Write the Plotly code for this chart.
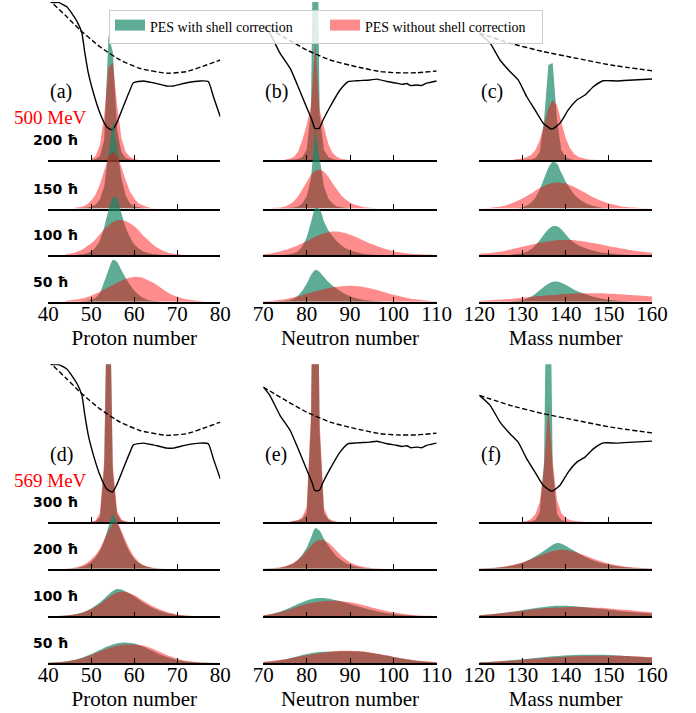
import plotly.graph_objects as go

# ===================== DATA =====================
# Yields (arbitrary units) of fragments, green = PES with shell correction,
# red = PES without shell correction.  500 MeV panel: rows 200,150,100,50 hbar
# ---- (a) proton number ----
a200_x = list(range(50, 62))
a200_sc = [0, 1, 4, 20, 125, 108, 30, 8, 2, 0.5, 0, 0]
a200_no = [1, 4, 15, 45, 92, 98, 55, 22, 8, 3, 1, 0]
a150_x = list(range(46, 66))
a150_sc = [0, 0, 0.5, 1, 2, 4, 9, 22, 55, 88, 62, 30, 13, 5, 2, 1, 0.5, 0, 0, 0]
a150_no = [0.5, 1, 2, 4, 8, 14, 24, 38, 52, 57, 53, 42, 28, 17, 10, 5, 3, 1.5, 0.7, 0.3]
a100_x = list(range(44, 73))
a100_sc = [0, 0, 0, 0.5, 1, 2, 4, 8, 15, 28, 45, 58, 57, 42, 28, 18, 11, 7, 4, 2.5, 1.5, 1, 0.5, 0, 0, 0, 0, 0, 0]
a100_no = [1, 1.5, 2.5, 4, 6, 9, 12, 16, 21, 26, 30, 33, 35, 35, 34, 32, 29, 25, 20, 16, 12, 8.5, 6, 4, 2.5, 1.5, 1, 0.5, 0.3]
a50_x = list(range(44, 77))
a50_sc = [0, 0, 0, 0, 0.5, 1, 2, 4, 9, 20, 32, 42, 40, 32, 24, 17, 11, 7, 4, 2, 1, 0.5, 0, 0, 0, 0, 0, 0, 0, 0, 0, 0, 0]
a50_no = [1, 1.5, 2, 2.7, 3.5, 4.7, 6, 8, 10, 12.3, 14.5, 16.8, 19, 21, 23, 24.3, 25, 24.8, 24, 22.2, 20, 17.5, 14.5, 11.5, 8.8, 6.5, 5, 3.7, 2.7, 2, 1.4, 1, 0.6]
# ---- (b) neutron number ----
b200_x = list(range(75, 91))
b200_sc = [0, 0, 0.5, 1, 3, 10, 50, 420, 45, 10, 3, 1, 0, 0, 0, 0]
b200_no = [0.5, 1, 3, 8, 20, 35, 55, 117, 50, 32, 16, 7, 3, 1, 0.5, 0]
b150_x = list(range(72, 97))
b150_sc = [0, 0, 0, 0, 0.5, 1, 2, 5, 12, 30, 80, 50, 22, 10, 5, 2, 1, 0.5, 0, 0, 0, 0, 0, 0, 0]
b150_no = [0.5, 0.7, 1, 2, 4, 7, 12, 19, 27, 34, 38, 39, 37, 32, 25, 19, 13, 9, 6, 4, 2.5, 1.5, 1, 0.5, 0.3]
b100_x = list(range(70, 111))
b100_sc = [0, 0, 0, 0, 0, 0.5, 1, 2, 4, 9, 18, 33, 47, 46, 34, 25, 19, 14, 10, 7, 5, 3.5, 2.5, 1.5, 1, 0.5, 0.3,
           0, 0, 0, 0, 0, 0, 0, 0, 0, 0, 0, 0, 0, 0]
b100_no = [1, 1.5, 2, 3, 4, 5.2, 6.5, 8.2, 10, 12, 14, 16.3, 18.5, 20.3, 22, 23, 23.6, 23.6, 23, 22, 20.5, 19, 17, 15,
           13, 11.2, 9.5, 8, 6.5, 5.2, 4, 3.2, 2.5, 2, 1.5, 1.2, 1, 0.8, 0.6, 0.4, 0.3]
b50_x = list(range(70, 111))
b50_sc = [0, 0, 0, 0, 0.5, 1, 1.5, 3, 6, 11, 18, 27, 32, 30, 25, 20, 16, 13, 10, 7.5, 5.5, 4, 3, 2, 1.5, 1, 0.5, 0.3,
          0, 0, 0, 0, 0, 0, 0, 0, 0, 0, 0, 0, 0]
b50_no = [0.5, 0.7, 1, 1.5, 2, 2.7, 3.5, 4.5, 5.5, 6.7, 8, 9.2, 10.5, 11.5, 12.5, 13.5, 14.5, 15, 15.5, 15.8, 16, 15.8,
          15.5, 14.8, 14, 13, 12, 10.8, 9.5, 8.2, 7, 6, 5, 4, 3, 2.5, 2, 1.5, 1, 0.7, 0.5]
# ---- (c) mass number ----
c200_x = list(range(128, 149))
c200_sc = [0, 0, 0, 0, 0.5, 2, 8, 40, 95, 97, 40, 10, 3, 1, 0, 0, 0, 0, 0, 0, 0]
c200_no = [0.5, 1, 1.5, 3, 5, 10, 20, 35, 52, 60, 55, 38, 22, 12, 6, 3, 1.5, 0.7, 0.3, 0, 0]
c150_x = list(range(120, 161))
c150_sc = [0, 0, 0, 0, 0, 0, 0, 0, 0, 0, 1, 3, 6, 11, 19, 30, 41, 47, 45, 36, 27, 20, 14, 10, 7, 4.5, 3, 2, 1, 0.5,
           0, 0, 0, 0, 0, 0, 0, 0, 0, 0, 0]
c150_no = [0.2, 0.3, 0.5, 1, 1.5, 2.2, 3, 4.5, 6, 8, 10, 12.5, 15, 17.8, 20.5, 22.5, 24.5, 25.5, 26, 25.8, 25, 23.5,
           21.5, 19.3, 17, 14.5, 12, 10, 8, 6.5, 5, 4, 3, 2.2, 1.5, 1.2, 1, 0.7, 0.5, 0.3, 0.2]
c100_x = list(range(120, 161))
c100_sc = [0, 0, 0, 0, 0, 0, 0, 0, 1, 1.5, 2, 3.5, 6, 10, 15, 21, 26, 29, 29, 26, 21, 16, 12.5, 10, 8, 6.5, 5, 4, 3,
           2.5, 2, 1.5, 1, 0.7, 0.5, 0.3, 0, 0, 0, 0, 0]
c100_no = [1.2, 1.6, 2, 2.5, 3, 3.7, 4.5, 5.5, 6.5, 7.5, 8.5, 9.5, 10.5, 11.5, 12.5, 13.3, 14, 14.5, 15, 15.2, 15.3,
           15.2, 15, 14.5, 14, 13.3, 12.5, 11.8, 11, 10, 9, 8.2, 7.5, 6.7, 6, 5.2, 4.5, 4, 3.5, 3, 2.5]
c50_x = list(range(120, 161))
c50_sc = [0, 0, 0, 0, 0, 0, 0, 0, 0.5, 1, 1.5, 3, 5, 8, 11.5, 15, 18, 20, 20.3, 19, 17, 14.5, 12, 10, 8.5, 7, 5.5,
          4.5, 3.5, 2.7, 2, 1.5, 1, 0.7, 0.5, 0, 0, 0, 0, 0, 0]
c50_no = [1, 1.2, 1.5, 1.7, 2, 2.2, 2.5, 2.8, 3.2, 3.6, 4, 4.5, 5, 5.4, 5.8, 6.2, 6.5, 6.9, 7.2, 7.5, 7.8, 8, 8.3,
          8.5, 8.7, 8.7, 8.7, 8.6, 8.5, 8.4, 8.2, 8, 7.7, 7.5, 7.2, 6.9, 6.6, 6.3, 6, 5.7, 5.4]

# 569 MeV panel: rows 300,200,100,50 hbar
# ---- (d) proton number ----
d300_x = list(range(50, 60))
d300_sc = [0, 0.5, 5, 55, 330, 50, 8, 1.5, 0, 0]
d300_no = [0.3, 1.5, 9, 62, 300, 58, 11, 2.5, 0.7, 0]
d200_x = list(range(44, 68))
d200_sc = [0, 0.3, 0.5, 1, 2, 4, 7, 11.5, 18, 28, 42, 54, 47, 36, 25, 16, 10, 6, 3.5, 2, 1, 0.5, 0.2, 0]
d200_no = [0.3, 0.5, 1, 2, 3.5, 6, 9.5, 14, 20, 29, 38, 45, 46, 38, 28, 19, 12, 7, 4, 2.2, 1.2, 0.6, 0.3, 0.1]
d100_x = [40, 42, 44, 46, 48, 50, 52, 54, 55, 56, 57, 58, 60, 62, 64, 66, 68, 70, 72, 74, 76]
d100_sc = [0.2, 0.5, 1, 2, 4, 8, 14, 22, 25.5, 27.4, 27, 25, 20, 14, 9, 5.5, 3, 1.5, 0.7, 0.3, 0.1]
d100_no = [0.2, 0.5, 1, 2, 4, 7.5, 12.5, 19, 22, 24, 25, 24.8, 21.5, 16, 11, 7, 4, 2, 1, 0.5, 0.2]
d50_x = list(range(40, 81, 2))
d50_sc = [0.3, 0.7, 1.5, 3, 5.5, 9, 13, 17, 19.8, 20.6, 19.5, 16.5, 12.5, 8.5, 5.5, 3, 1.5, 0.8, 0.3, 0.1, 0]
d50_no = [0.3, 0.7, 1.4, 2.8, 5, 8, 11.5, 14.8, 17.2, 18.4, 18.6, 17.5, 14.8, 11, 7.3, 4.3, 2.2, 1.1, 0.5, 0.2, 0.1]
# ---- (e) neutron number ----
e300_x = list(range(76, 90))
e300_sc = [0, 0.5, 1.5, 3, 9, 100, 480, 90, 9, 2.5, 0.5, 0, 0, 0]
e300_no = [0.3, 0.8, 2, 5, 15, 110, 450, 100, 14, 4, 1.2, 0.4, 0.1, 0]
e200_x = list(range(70, 99))
e200_sc = [0, 0.2, 0.3, 0.5, 1, 2, 3.5, 5.5, 9, 14, 21, 31, 40.7, 38, 30, 23, 17, 12, 8.5, 6, 4, 2.5, 1.5, 1, 0.5,
           0.3, 0.1, 0, 0]
e200_no = [0.2, 0.3, 0.5, 1, 1.5, 2.5, 4, 6, 9, 13, 18, 23, 27, 29, 28.5, 26, 22, 17.5, 13, 9.5, 6.5, 4.5, 3, 2, 1.2,
           0.7, 0.4, 0.2, 0.1]
e100_x = list(range(70, 111, 2))
e100_sc = [1, 2.5, 5, 8.5, 12.5, 16, 18.2, 18.4, 17, 15, 12.5, 10, 7.5, 5.5, 3.8, 2.5, 1.5, 1, 0.5, 0.3, 0.2]
e100_no = [1.2, 2.5, 4.5, 7, 10, 12.5, 14.3, 15.3, 15.6, 15.3, 14.2, 12.5, 10.3, 8, 6, 4.2, 2.8, 1.8, 1, 0.6, 0.3]
e50_x = list(range(70, 111, 2))
e50_sc = [0.8, 1.5, 2.8, 4.5, 6.8, 9, 10.6, 11.2, 11.5, 11.8, 11.8, 11.4, 10.6, 9.3, 7.8, 6.1, 4.5, 3.1, 2, 1.2, 0.7]
e50_no = [1.2, 2, 3.2, 4.6, 6.2, 7.8, 9.3, 10.6, 11.6, 12.2, 12.3, 11.9, 11, 9.6, 8, 6.3, 4.7, 3.3, 2.2, 1.4, 0.8]
# ---- (f) mass number ----
f300_x = list(range(130, 146))
f300_sc = [0, 0, 0.5, 2, 10, 60, 400, 55, 8, 2, 0.5, 0, 0, 0, 0, 0]
f300_no = [0.3, 1, 3, 8, 20, 55, 116, 60, 22, 9, 4, 2, 1, 0.5, 0.2, 0]
f200_x = [120, 122, 124, 126, 128, 130, 132, 134, 136, 137, 138, 139, 140, 142, 144, 146, 148, 150, 152, 154, 156, 158, 160]
f200_sc = [0.2, 0.5, 1, 2, 3.5, 6, 10, 15, 21, 24, 25.7, 25, 23, 18, 13, 9, 6, 4, 2.5, 1.5, 0.8, 0.4, 0.2]
f200_no = [0.3, 0.7, 1.3, 2.3, 4, 6.3, 9.5, 13, 16.3, 17.7, 18.5, 19, 18.8, 17, 14, 10.8, 7.8, 5.3, 3.4, 2, 1.2, 0.7, 0.4]
f100_x = list(range(120, 161, 2))
f100_sc = [1.2, 2, 2.8, 3.8, 5, 6.3, 7.6, 8.9, 9.9, 10.6, 10.7, 10.2, 9.4, 8.5, 7.6, 6.7, 5.8, 5, 4.3, 3.6, 3]
f100_no = [1.3, 2, 2.8, 3.7, 4.7, 5.7, 6.7, 7.6, 8.4, 9, 9.3, 9.4, 9.3, 9, 8.6, 8, 7.3, 6.6, 5.8, 5, 4.3]
f50_x = list(range(120, 161, 2))
f50_sc = [0.7, 1.1, 1.6, 2.2, 2.9, 3.7, 4.6, 5.5, 6.3, 7, 7.6, 8, 8.2, 8.3, 8.2, 8, 7.6, 7.1, 6.5, 5.9, 5.3]
f50_no = [0.8, 1.1, 1.5, 2, 2.6, 3.2, 3.9, 4.6, 5.2, 5.8, 6.3, 6.7, 7, 7.2, 7.3, 7.3, 7.2, 7, 6.7, 6.3, 5.9]

# Potential energy curves (arb. units) along Z, N, A: solid = with shell correction, dashed = without
Z_pes_x = [40, 40.8, 42.3, 44.3, 46.7, 47.8, 48.5, 49.3, 50.5, 52.0, 53.6, 54.9, 55.9, 57.4, 59.0, 59.8, 62.1, 64.4,
           67.5, 69.1, 72.2, 75.3, 77.2, 78.4, 80]
Z_pes = [40.5, 39.4, 39.4, 38.3, 34.6, 31.75, 26.75, 21.75, 16.75, 11.75, 8.25, 7.5, 9.25, 13.25, 17.5, 19.3, 19.75,
         19.3, 18.5, 18.5, 19.3, 19.75, 19.6, 15.8, 10.8]
Z_ldm_x = [40, 41.2, 44.3, 47.4, 52.0, 56.7, 61.3, 67.5, 72.2, 76.8, 80]
Z_ldm = [40.2, 39, 35.8, 32.5, 28.3, 25, 22.9, 21.7, 22.1, 23.75, 25]
N_pes_x = [70, 71.5, 73.85, 76.2, 77.7, 79.6, 81.2, 81.9, 82.9, 83.8, 85.4, 87.7, 89.6, 91.5, 94.6, 96.2, 98.5, 100.8,
           102, 103.1, 104, 105.4, 106.5, 107.7, 110]
N_pes = [33.75, 31.7, 26.7, 22.9, 19.2, 14.2, 10, 7.9, 7.9, 10, 13.3, 17.5, 19.6, 19.8, 20, 20.2, 19.6, 19.2, 18.9,
         19.1, 18.6, 18.75, 18.6, 19.2, 19.75]
N_ldm_x = [70, 74.6, 80.0, 85.4, 91.5, 97.0, 100.8, 105.4, 110]
N_ldm = [33.75, 30.8, 27.5, 25, 23.3, 22.1, 21.8, 21.8, 22.25]
A_pes_x = [120, 122.5, 124.8, 127.1, 129.0, 131.0, 132.9, 134.8, 136.8, 138.7, 140.6, 142.6, 144.5, 146.4, 148.7,
           151.8, 155.7, 160]
A_pes = [31.7, 29.2, 25, 22.1, 20, 15.8, 12.5, 9.2, 7.7, 9.2, 12.5, 15, 16.25, 18.3, 19.8, 19.75, 20, 20.25]
A_ldm_x = [120, 127.1, 134.8, 142.6, 150.4, 160]
A_ldm = [31.7, 29.2, 27.1, 25.4, 23.75, 22.3]

Z_ticks = [40, 50, 60, 70, 80]
N_ticks = [70, 80, 90, 100, 110]
A_ticks = [120, 130, 140, 150, 160]

energies = ["500 MeV", "569 MeV"]
letters = [["(a)", "(b)", "(c)"], ["(d)", "(e)", "(f)"]]
spins = [["200 ħ", "150 ħ", "100 ħ", "50 ħ"], ["300 ħ", "200 ħ", "100 ħ", "50 ħ"]]
series_labels = ["PES with shell correction", "PES without shell correction"]

rows_data = [
    [[(a200_x, a200_sc, a200_no), (a150_x, a150_sc, a150_no), (a100_x, a100_sc, a100_no), (a50_x, a50_sc, a50_no)],
     [(b200_x, b200_sc, b200_no), (b150_x, b150_sc, b150_no), (b100_x, b100_sc, b100_no), (b50_x, b50_sc, b50_no)],
     [(c200_x, c200_sc, c200_no), (c150_x, c150_sc, c150_no), (c100_x, c100_sc, c100_no), (c50_x, c50_sc, c50_no)]],
    [[(d300_x, d300_sc, d300_no), (d200_x, d200_sc, d200_no), (d100_x, d100_sc, d100_no), (d50_x, d50_sc, d50_no)],
     [(e300_x, e300_sc, e300_no), (e200_x, e200_sc, e200_no), (e100_x, e100_sc, e100_no), (e50_x, e50_sc, e50_no)],
     [(f300_x, f300_sc, f300_no), (f200_x, f200_sc, f200_no), (f100_x, f100_sc, f100_no), (f50_x, f50_sc, f50_no)]],
]
columns = [
    dict(title="Proton number", ticks=Z_ticks, pes=(Z_pes_x, Z_pes), ldm=(Z_ldm_x, Z_ldm)),
    dict(title="Neutron number", ticks=N_ticks, pes=(N_pes_x, N_pes), ldm=(N_ldm_x, N_ldm)),
    dict(title="Mass number", ticks=A_ticks, pes=(A_pes_x, A_pes), ldm=(A_ldm_x, A_ldm)),
]

# ===================== STYLE / GEOMETRY =====================
W, H = 696, 713
MB = 49.7                   # bottom margin (room for the lowest tick labels / titles)
PH = H - MB                 # plot-area height
COL_PX = [(48.3, 220.3), (263.3, 436.7), (479.3, 652.0)]
BASE_PX = [[160, 208.7, 255.3, 302], [522.3, 569, 616.7, 663.3]]
PANEL_H = 158          # px above the first baseline
YIELD_PX = 1.0         # px per yield unit
CURVE_PX = 4.0         # px per energy unit
GREEN = "rgba(26,136,105,0.7)"
RED = "rgba(255,0,0,0.45)"
SERIF = "Liberation Serif"


def fy(px):
    return min(1.0, max(0.0, 1 - px / PH))


fig = go.Figure()
layout = {}
annotations = []
n_overlay = 24

for p in range(2):
    base = BASE_PX[p]
    top = base[0] - PANEL_H
    for c, col in enumerate(columns):
        x0, x1 = COL_PX[c]
        for r in range(4):
            n = 1 + p * 12 + c * 4 + r
            sfx = "" if n == 1 else str(n)
            xa, ya = "x" + sfx, "y" + sfx
            xs, sc, no = rows_data[p][c][r]
            shape = "linear" if max(sc) > 60 else "spline"
            for vals, colr in ((sc, GREEN), (no, RED)):
                fig.add_trace(go.Scatter(
                    x=xs, y=vals, xaxis=xa, yaxis=ya, mode="lines",
                    line=dict(width=0, shape=shape, smoothing=0.6), fill="tozeroy", fillcolor=colr,
                    showlegend=False, hoverinfo="skip"))
            if r == 0:
                n_overlay += 1
                yo = "y" + str(n_overlay)
                for (cx, cy), dash in ((col["pes"], "solid"), (col["ldm"], "5px,2.5px")):
                    fig.add_trace(go.Scatter(
                        x=cx, y=cy, xaxis=xa, yaxis=yo, mode="lines",
                        line=dict(color="black", width=1.4, dash=dash, shape="spline", smoothing=0.5),
                        showlegend=False, hoverinfo="skip"))
                layout["yaxis" + str(n_overlay)] = dict(
                    overlaying=ya, range=[0, PANEL_H / CURVE_PX], visible=False, fixedrange=True,
                    automargin=False)
            layout["xaxis" + sfx] = dict(
                domain=[x0 / W, x1 / W], range=[col["ticks"][0], col["ticks"][-1]], anchor=ya,
                showline=True, linecolor="black", linewidth=1.5, ticks="inside", ticklen=5,
                tickwidth=1.2, tickcolor="black", tickvals=col["ticks"], showticklabels=(r == 3),
                ticklabelstandoff=-8,
                tickfont=dict(family=SERIF, size=21, color="black"), showgrid=False, zeroline=False,
                fixedrange=True, automargin=False,
                title=dict(text=col["title"] if r == 3 else "", standoff=0,
                           font=dict(family=SERIF, size=21, color="black")))
            layout["yaxis" + sfx] = dict(
                domain=[fy(base[r]), fy(top)], range=[0, (base[r] - top) / YIELD_PX], anchor=xa,
                visible=False, fixedrange=True, automargin=False)
            if c == 0:
                annotations.append(dict(
                    x=31 / W, y=fy(base[r] - 20), xref="paper", yref="paper", xanchor="left",
                    yanchor="middle", text="<b>" + spins[p][r] + "</b>", showarrow=False,
                    font=dict(family="DejaVu Sans", size=14, color="black")))
        annotations.append(dict(
            x=x0 / W, y=fy(base[0] - 68), xref="paper", yref="paper", xanchor="left", yanchor="middle",
            text=letters[p][c], showarrow=False, font=dict(family=SERIF, size=20, color="black")))
    annotations.append(dict(
        x=51 / W, y=fy(base[0] - 42), xref="paper", yref="paper", xanchor="center", yanchor="middle",
        text=energies[p], showarrow=False, font=dict(family=SERIF, size=19, color="red")))

# legend entries
for name, colr, lw in zip(series_labels, ["rgb(95,172,150)", "rgb(252,140,140)"], [170, 172]):
    fig.add_trace(go.Scatter(x=[None], y=[None], xaxis="x", yaxis="y", mode="lines", name=name,
                             fill="toself", fillcolor=colr, line=dict(color=colr, width=10),
                             legendwidth=lw, hoverinfo="skip"))

fig.update_layout(
    width=W, height=H, margin=dict(l=0, r=0, t=0, b=MB, pad=0, autoexpand=False),
    paper_bgcolor="white", plot_bgcolor="rgba(0,0,0,0)",
    annotations=annotations,
    legend=dict(orientation="h", x=109 / W, y=fy(10), xanchor="left", yanchor="top",
                bgcolor="rgba(255,255,255,0.8)", bordercolor="#cccccc", borderwidth=1,
                font=dict(family=SERIF, size=14, color="black"), itemwidth=30, traceorder="normal",
                entrywidthmode="pixels"),
    **layout,
)
fig.write_html("out.html")
